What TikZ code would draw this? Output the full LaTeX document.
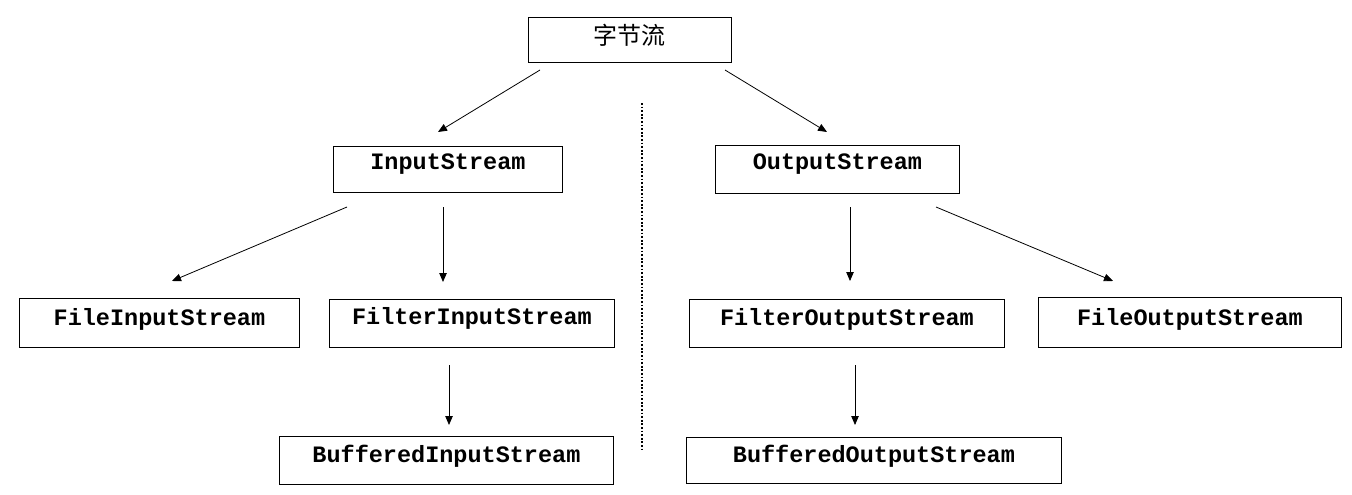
\documentclass[tikz,border=0pt]{standalone}
\usepackage{fontspec}
\newfontfamily\monob{Liberation Mono}
\newfontfamily\cjk{Noto Sans CJK SC}
\usetikzlibrary{arrows.meta}
\tikzset{
  box/.style={draw, line width=0.9pt, inner sep=0pt, anchor=north west, align=center,
    font=\monob\bfseries\fontsize{23.5}{26}\selectfont},
  conn/.style={line width=0.8pt, -{Triangle[length=9pt,width=7.5pt]}},
  sep/.style={line width=1.8pt, dash pattern=on 1.8pt off 1.8pt}
}
\begin{document}
\begin{tikzpicture}[x=1pt,y=-1pt]
\useasboundingbox (0,0) rectangle (1352,495);
\node[box, minimum width=203pt, text height=27pt, text depth=18pt, font=\cjk\fontsize{24}{26}\selectfont] (root) at (528,17) {字节流};
\node[box, minimum width=229pt, text height=23pt, text depth=23pt] (in) at (333,146) {InputStream};
\node[box, minimum width=244pt, text height=24pt, text depth=24pt] (out) at (715,145) {OutputStream};
\node[box, minimum width=280pt, text height=27pt, text depth=22pt] (filein) at (19,298) {FileInputStream};
\node[box, minimum width=285pt, text height=25pt, text depth=23pt] (filterin) at (329,299) {FilterInputStream};
\node[box, minimum width=315pt, text height=26pt, text depth=22pt] (filterout) at (689,299) {FilterOutputStream};
\node[box, minimum width=303pt, text height=28pt, text depth=22pt] (fileout) at (1038,297) {FileOutputStream};
\node[box, minimum width=334pt, text height=26pt, text depth=22pt] (bufin) at (279,436) {BufferedInputStream};
\node[box, minimum width=375pt, text height=25pt, text depth=21pt] (bufout) at (686,437) {BufferedOutputStream};

\coordinate (a1s) at (540,70);  \coordinate (a1e) at (438,132);
\coordinate (a2s) at (725,70);  \coordinate (a2e) at (827,132);
\coordinate (a3s) at (347,207); \coordinate (a3e) at (172,281);
\coordinate (a4s) at (443,207); \coordinate (a4e) at (443,282);
\coordinate (a5s) at (850,207); \coordinate (a5e) at (850,281);
\coordinate (a6s) at (936,207); \coordinate (a6e) at (1113,281);
\coordinate (a7s) at (449,365); \coordinate (a7e) at (449,425);
\coordinate (a8s) at (855,365); \coordinate (a8e) at (855,425);
\coordinate (d1) at (642,103);  \coordinate (d2) at (642,450);

\draw[conn] (a1s) -- (a1e);
\draw[conn] (a2s) -- (a2e);
\draw[conn] (a3s) -- (a3e);
\draw[conn] (a4s) -- (a4e);
\draw[conn] (a5s) -- (a5e);
\draw[conn] (a6s) -- (a6e);
\draw[conn] (a7s) -- (a7e);
\draw[conn] (a8s) -- (a8e);
\draw[sep] (d1) -- (d2);
\end{tikzpicture}
\end{document}
